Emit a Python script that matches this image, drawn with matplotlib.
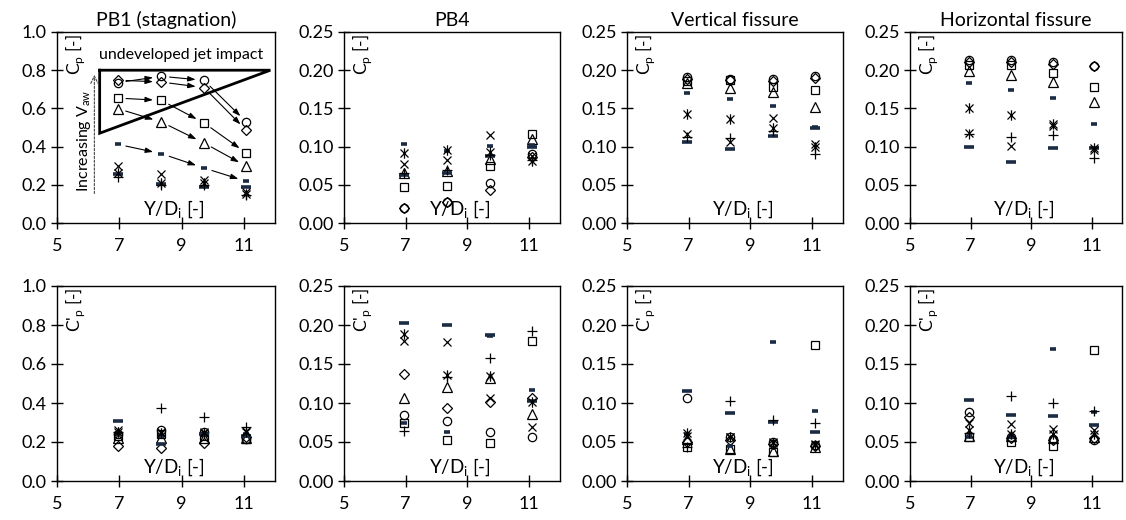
import numpy as np
import matplotlib
matplotlib.use("Agg")
import matplotlib.pyplot as plt
from matplotlib.path import Path

plt.rcParams['font.family'] = ['Lato', 'DejaVu Sans']
plt.rcParams['font.size'] = 13

# x positions of the four measuring points (Y/D_i)
ydi = [6.95, 8.35, 9.72, 11.08]

titles = ['PB1 (stagnation)', 'PB4', 'Vertical fissure', 'Horizontal fissure']
series = ['o', 'D', 's', '^', 'sd', 'ld', 'x', 'star', '+']

# mean pressure coefficient Cp, one list per series, per panel
cp_pb1 = {
    'o':    [0.735, 0.768, 0.747, 0.529],
    'D':    [0.748, 0.738, 0.709, 0.485],
    's':    [0.654, 0.642, 0.524, 0.366],
    '^':    [0.599, 0.529, 0.419, 0.297],
    'sd':   [0.412, 0.363, 0.288, 0.218],
    'ld':   [0.255, 0.205, 0.188, 0.190],
    'x':    [0.298, 0.258, 0.223, 0.162],
    'star': [0.263, 0.209, 0.210, 0.154],
    '+':    [0.240, 0.200, 0.200, 0.145],
}
cp_pb4 = {
    'o':    [0.020, 0.028, 0.052, 0.090],
    'D':    [0.019, 0.027, 0.043, 0.086],
    's':    [0.047, 0.048, 0.074, 0.117],
    '^':    [0.065, 0.068, 0.084, 0.110],
    'sd':   [0.103, 0.094, 0.101, 0.102],
    'ld':   [0.063, 0.066, 0.088, 0.100],
    'x':    [0.077, 0.082, 0.115, 0.088],
    'star': [0.091, 0.095, 0.093, 0.081],
    '+':    [0.065, 0.070, 0.089, 0.083],
}
cp_vert = {
    'o':    [0.191, 0.188, 0.189, 0.193],
    'D':    [0.188, 0.187, 0.186, 0.190],
    's':    [0.186, 0.187, 0.178, 0.174],
    '^':    [0.183, 0.177, 0.171, 0.152],
    'sd':   [0.170, 0.162, 0.153, 0.126],
    'ld':   [0.106, 0.097, 0.114, 0.124],
    'x':    [0.116, 0.106, 0.137, 0.103],
    'star': [0.143, 0.136, 0.125, 0.100],
    '+':    [0.113, 0.111, 0.121, 0.090],
}
cp_hor = {
    'o':    [0.214, 0.214, 0.211, 0.206],
    'D':    [0.211, 0.211, 0.208, 0.205],
    's':    [0.207, 0.207, 0.196, 0.178],
    '^':    [0.199, 0.194, 0.185, 0.159],
    'sd':   [0.183, 0.174, 0.163, 0.130],
    'ld':   [0.100, 0.080, 0.098, 0.098],
    'x':    [0.118, 0.101, 0.127, 0.096],
    'star': [0.150, 0.141, 0.130, 0.098],
    '+':    [0.117, 0.113, 0.115, 0.085],
}

# fluctuating pressure coefficient C'p
cpp_pb1 = {
    'o':    [0.240, 0.260, 0.250, 0.215],
    'D':    [0.180, 0.170, 0.195, 0.225],
    's':    [0.230, 0.240, 0.230, 0.215],
    '^':    [0.220, 0.220, 0.220, 0.220],
    'sd':   [0.240, 0.230, 0.235, 0.240],
    'ld':   [0.306, 0.188, 0.240, 0.230],
    'x':    [0.260, 0.250, 0.250, 0.255],
    'star': [0.250, 0.245, 0.245, 0.250],
    '+':    [0.250, 0.372, 0.329, 0.277],
}
cpp_pb4 = {
    'o':    [0.084, 0.077, 0.063, 0.056],
    'D':    [0.137, 0.093, 0.101, 0.106],
    's':    [0.075, 0.053, 0.049, 0.180],
    '^':    [0.106, 0.120, 0.132, 0.086],
    'sd':   [0.075, 0.063, 0.186, 0.117],
    'ld':   [0.203, 0.200, 0.187, 0.103],
    'x':    [0.180, 0.178, 0.106, 0.069],
    'star': [0.189, 0.136, 0.134, 0.101],
    '+':    [0.064, 0.133, 0.158, 0.192],
}
cpp_vert = {
    'o':    [0.106, 0.056, 0.050, 0.046],
    'D':    [0.050, 0.053, 0.048, 0.045],
    's':    [0.044, 0.041, 0.037, 0.174],
    '^':    [0.054, 0.041, 0.039, 0.044],
    'sd':   [0.060, 0.045, 0.178, 0.090],
    'ld':   [0.115, 0.0875, 0.076, 0.063],
    'x':    [0.058, 0.057, 0.050, 0.047],
    'star': [0.062, 0.056, 0.049, 0.046],
    '+':    [0.044, 0.102, 0.078, 0.074],
}
cpp_hor = {
    'o':    [0.088, 0.056, 0.054, 0.053],
    'D':    [0.082, 0.055, 0.053, 0.055],
    's':    [0.057, 0.050, 0.045, 0.168],
    '^':    [0.058, 0.058, 0.055, 0.056],
    'sd':   [0.056, 0.057, 0.169, 0.088],
    'ld':   [0.104, 0.085, 0.083, 0.072],
    'x':    [0.075, 0.073, 0.067, 0.065],
    'star': [0.065, 0.060, 0.060, 0.060],
    '+':    [0.062, 0.109, 0.100, 0.090],
}

top_data = [cp_pb1, cp_pb4, cp_vert, cp_hor]
bot_data = [cpp_pb1, cpp_pb4, cpp_vert, cpp_hor]

# Excel-like asterisk: x with a vertical bar
star_path = Path([(-1, -1), (1, 1), (-1, 1), (1, -1), (0, -1.3), (0, 1.3)],
                 [Path.MOVETO, Path.LINETO, Path.MOVETO, Path.LINETO, Path.MOVETO, Path.LINETO])
navy = '#1c2b44'
styles = {
    'o':    dict(marker='o', ms=6.0, mfc='none', mec='k', mew=0.9),
    'D':    dict(marker='D', ms=5.0, mfc='none', mec='k', mew=0.9),
    's':    dict(marker='s', ms=6.0, mfc='none', mec='k', mew=0.9),
    '^':    dict(marker='^', ms=6.5, mfc='none', mec='k', mew=0.9),
    'sd':   dict(marker='_', ms=4.0, mec=navy, mew=2.6),
    'ld':   dict(marker='_', ms=7.5, mec=navy, mew=2.6),
    'x':    dict(marker='x', ms=6.0, mec='k', mew=0.9),
    'star': dict(marker=star_path, ms=7.5, mec='k', mew=0.9),
    '+':    dict(marker='+', ms=7.0, mec='k', mew=0.9),
}

W, H = 1126, 520
fig = plt.figure(figsize=(W / 100, H / 100), dpi=100)

col_px = [(57, 275), (344, 560), (627, 843), (910, 1122)]
row_px = [(32, 223), (286, 481)]


def make_axes(x0, x1, y0, y1):
    return fig.add_axes([x0 / W, 1 - y1 / H, (x1 - x0) / W, (y1 - y0) / H])


def style_axes(ax, big, ylab):
    ax.set_xlim(5, 12)
    ax.set_xticks([5, 7, 9, 11])
    if big:
        ax.set_ylim(0, 1.0)
        ax.set_yticks(np.arange(0, 1.01, 0.2))
        ax.yaxis.set_major_formatter(plt.FormatStrFormatter('%.1f'))
    else:
        ax.set_ylim(0, 0.25)
        ax.set_yticks(np.arange(0, 0.251, 0.05))
        ax.yaxis.set_major_formatter(plt.FormatStrFormatter('%.2f'))
    for sp in ax.spines.values():
        sp.set_linewidth(1.0)
    ax.tick_params(direction='inout', length=9, width=1.0, labelsize=13, pad=3)
    ax.tick_params(axis='x', pad=6)
    ax.text(8.75, 0.07, r'Y/D$_\mathregular{i}$ [-]', transform=ax.get_xaxis_transform(),
            ha='center', va='center', fontsize=13.5)
    ax.text(0.085, 0.99, ylab, transform=ax.transAxes, rotation=90,
            ha='center', va='top', fontsize=12.5)


for r, (datasets, ylab) in enumerate([(top_data, r'C$_\mathregular{p}$ [-]'),
                                      (bot_data, r"C'$_\mathregular{p}$ [-]")]):
    for c, data in enumerate(datasets):
        ax = make_axes(col_px[c][0], col_px[c][1], row_px[r][0], row_px[r][1])
        style_axes(ax, c == 0, ylab)
        for name in series:
            ax.plot(ydi, data[name], ls='none', **styles[name])
        if r == 0:
            ax.set_title(titles[c], fontsize=14, pad=4)
        if r == 0 and c == 0:
            # arrows following each of the upper series along Y/D_i
            for name in ['o', 'D', 's', '^', 'sd']:
                yv = data[name]
                for i in range(3):
                    ax.annotate('', xy=(ydi[i + 1], yv[i + 1]), xytext=(ydi[i], yv[i]),
                                arrowprops=dict(arrowstyle='-|>,head_length=0.35,head_width=0.12',
                                                lw=0.8, color='k', shrinkA=6, shrinkB=6))
            # undeveloped jet impact region
            tri_x = [6.37, 11.85, 6.37, 6.37]
            tri_y = [0.80, 0.80, 0.47, 0.80]
            ax.plot(tri_x, tri_y, color='k', lw=2.0, solid_joinstyle='miter')
            ax.text(9.0, 0.88, 'undeveloped jet impact', ha='center', va='center', fontsize=11.5)
            ax.annotate('', xy=(6.2, 0.79), xytext=(6.2, 0.14),
                        arrowprops=dict(arrowstyle='->', lw=0.8, ls=(0, (2, 1.5)), color='#444444'))
            ax.text(5.88, 0.43, r'Increasing V$_\mathregular{aw}$', rotation=90,
                    ha='center', va='center', fontsize=11.5)

fig.savefig('out.png', dpi=100)
